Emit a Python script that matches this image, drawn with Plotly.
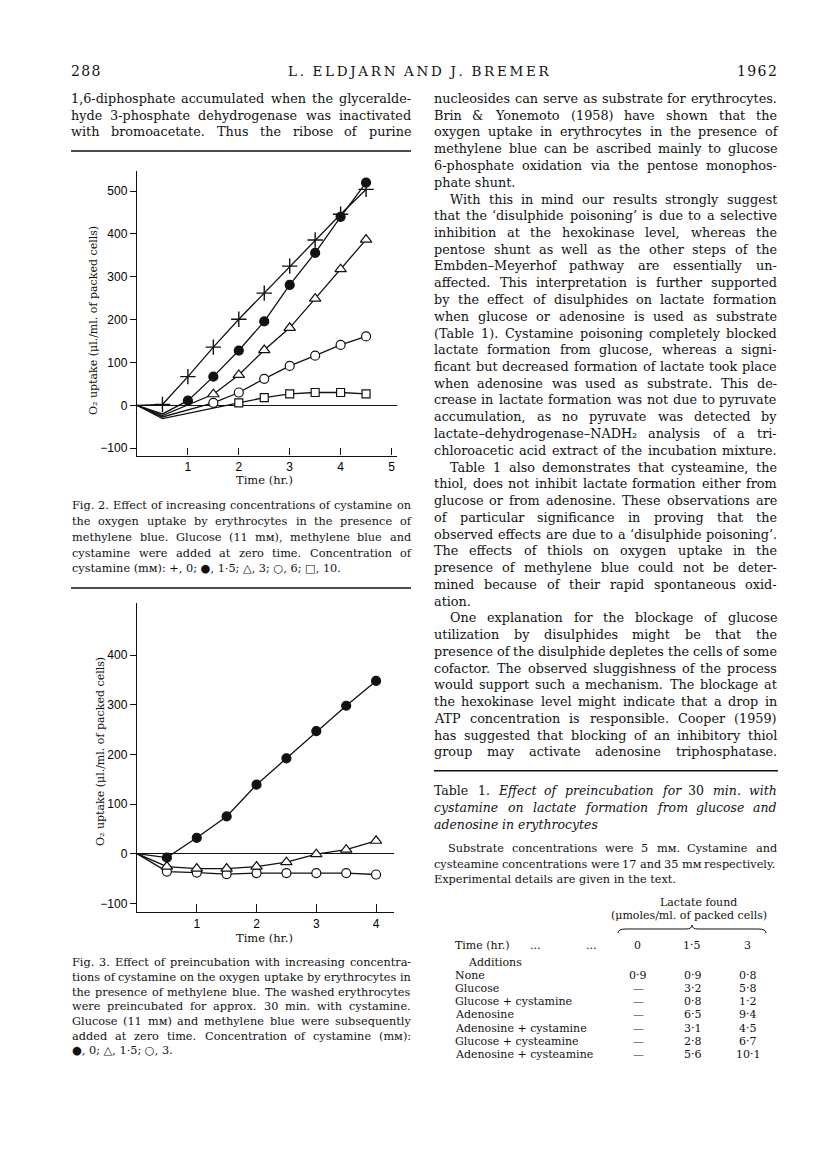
import plotly.graph_objects as go

W, H = 816, 1155

# ---------------- Fig. 2 data (O2 uptake, µl./ml. packed cells) ----------------
fig2_time_plus = [0, 0.5, 1.0, 1.5, 2.0, 2.5, 3.0, 3.5, 4.0, 4.5]
fig2_plus = [0, 2, 67, 136, 201, 262, 325, 386, 446, 504]
fig2_time_filled = [0, 0.5, 1.0, 1.5, 2.0, 2.5, 3.0, 3.5, 4.0, 4.5]
fig2_filled = [0, -20, 11, 67, 128, 196, 281, 356, 440, 520]
fig2_time_tri = [0, 0.5, 1.5, 2.0, 2.5, 3.0, 3.5, 4.0, 4.5]
fig2_tri = [0, -24, 26, 71, 129, 181, 249, 318, 387]
fig2_time_circ = [0, 0.5, 1.5, 2.0, 2.5, 3.0, 3.5, 4.0, 4.5]
fig2_circ = [0, -27, 6, 30, 62, 92, 116, 141, 161]
fig2_time_sq = [0, 0.5, 2.0, 2.5, 3.0, 3.5, 4.0, 4.5]
fig2_sq = [0, -31, 6, 18, 27, 30, 30, 27]
# number of leading (unmarked) points in each series
fig2_unmarked = {"plus": 1, "filled": 2, "tri": 2, "circ": 2, "sq": 2}
fig2_xticks = [1, 2, 3, 4, 5]
fig2_yticks = [-100, 0, 100, 200, 300, 400, 500]

# ---------------- Fig. 3 data ----------------
fig3_time = [0, 0.5, 1.0, 1.5, 2.0, 2.5, 3.0, 3.5, 4.0]
fig3_filled = [0, -8, 32, 75, 139, 192, 247, 298, 348]
fig3_tri = [0, -26, -30, -30, -26, -17, -1, 8, 26]
fig3_circ = [0, -36, -38, -41, -39, -39, -39, -39, -42]
fig3_xticks = [1, 2, 3, 4]
fig3_yticks = [-100, 0, 100, 200, 300, 400]

# ---------------- Table 1 ----------------
table_additions = ["None", "Glucose", "Glucose + cystamine", "Adenosine",
                   "Adenosine + cystamine", "Glucose + cysteamine",
                   "Adenosine + cysteamine"]
table_t0 = ["0·9", "—", "—", "—", "—", "—", "—"]
table_t15 = ["0·9", "3·2", "0·8", "6·5", "3·1", "2·8", "5·6"]
table_t3 = ["0·8", "5·8", "1·2", "9·4", "4·5", "6·7", "10·1"]
table_time_labels = ["0", "1·5", "3"]

# ---------------- Page text ----------------
left_top_lines = [
    "1,6-diphosphate accumulated when the glyceralde-",
    "hyde 3-phosphate dehydrogenase was inactivated",
    "with bromoacetate. Thus the ribose of purine",
]
fig2_caption = [
    "Fig. 2.  Effect of increasing concentrations of cystamine on",
    "the oxygen uptake by erythrocytes in the presence of",
    "methylene blue.  Glucose (11 mᴍ), methylene blue and",
    "cystamine were added at zero time.  Concentration of",
    "cystamine (mᴍ): +, 0; ●, 1·5; △, 3; ○, 6; □, 10.",
]
fig3_caption = [
    "Fig. 3.  Effect of preincubation with increasing concentra-",
    "tions of cystamine on the oxygen uptake by erythrocytes in",
    "the presence of methylene blue. The washed erythrocytes",
    "were preincubated for approx. 30 min. with cystamine.",
    "Glucose (11 mᴍ) and methylene blue were subsequently",
    "added at zero time.  Concentration of cystamine (mᴍ):",
    "●, 0; △, 1·5; ○, 3.",
]
# (indent, justified, text)
right_lines = [
    (0, 1, "nucleosides can serve as substrate for erythrocytes."),
    (0, 1, "Brin & Yonemoto (1958) have shown that the"),
    (0, 1, "oxygen uptake in erythrocytes in the presence of"),
    (0, 1, "methylene blue can be ascribed mainly to glucose"),
    (0, 1, "6-phosphate oxidation via the pentose monophos-"),
    (0, 0, "phate shunt."),
    (1, 1, "With this in mind our results strongly suggest"),
    (0, 1, "that the ‘disulphide poisoning’ is due to a selective"),
    (0, 1, "inhibition at the hexokinase level, whereas the"),
    (0, 1, "pentose shunt as well as the other steps of the"),
    (0, 1, "Embden–Meyerhof pathway are essentially un-"),
    (0, 1, "affected. This interpretation is further supported"),
    (0, 1, "by the effect of disulphides on lactate formation"),
    (0, 1, "when glucose or adenosine is used as substrate"),
    (0, 1, "(Table 1). Cystamine poisoning completely blocked"),
    (0, 1, "lactate formation from glucose, whereas a signi-"),
    (0, 1, "ficant but decreased formation of lactate took place"),
    (0, 1, "when adenosine was used as substrate. This de-"),
    (0, 1, "crease in lactate formation was not due to pyruvate"),
    (0, 1, "accumulation, as no pyruvate was detected by"),
    (0, 1, "lactate–dehydrogenase–NADH₂ analysis of a tri-"),
    (0, 1, "chloroacetic acid extract of the incubation mixture."),
    (1, 1, "Table 1 also demonstrates that cysteamine, the"),
    (0, 1, "thiol, does not inhibit lactate formation either from"),
    (0, 1, "glucose or from adenosine. These observations are"),
    (0, 1, "of particular significance in proving that the"),
    (0, 1, "observed effects are due to a ‘disulphide poisoning’."),
    (0, 1, "The effects of thiols on oxygen uptake in the"),
    (0, 1, "presence of methylene blue could not be deter-"),
    (0, 1, "mined because of their rapid spontaneous oxid-"),
    (0, 0, "ation."),
    (1, 1, "One explanation for the blockage of glucose"),
    (0, 1, "utilization by disulphides might be that the"),
    (0, 1, "presence of the disulphide depletes the cells of some"),
    (0, 1, "cofactor. The observed sluggishness of the process"),
    (0, 1, "would support such a mechanism. The blockage at"),
    (0, 1, "the hexokinase level might indicate that a drop in"),
    (0, 1, "ATP concentration is responsible.  Cooper (1959)"),
    (0, 1, "has suggested that blocking of an inhibitory thiol"),
    (0, 1, "group may activate adenosine triphosphatase."),
]
table_title = [
    "Table 1.  Effect of preincubation for 30 min. with",
    "cystamine on lactate formation from glucose and",
    "adenosine in erythrocytes",
]
table_title_upright = {"Table", "1.", "30"}
table_note = [
    "Substrate concentrations were 5 mᴍ.  Cystamine and",
    "cysteamine concentrations were 17 and 35 mᴍ respectively.",
    "Experimental details are given in the text.",
]


def X(px):
    return px / W


def Y(py):
    return 1 - py / H


SERIF = "DejaVu Serif"
TICKFONT = dict(family="Liberation Sans Narrow, Liberation Sans, Arial", size=12, color="black")
INK = "#111111"

# approximate advance widths of DejaVu Serif (units per 2048 em) used to justify lines
_cw = {' ': 651, 'a': 1221, 'b': 1311, 'c': 1139, 'd': 1311, 'e': 1212, 'f': 762, 'g': 1311,
       'h': 1319, 'i': 655, 'j': 641, 'k': 1237, 'l': 655, 'm': 1980, 'n': 1319, 'o': 1233,
       'p': 1311, 'q': 1311, 'r': 981, 's': 1049, 't': 821, 'u': 1319, 'v': 1186, 'w': 1745,
       'x': 1180, 'y': 1186, 'z': 1085, '.': 651, ',': 651, ':': 690, ';': 690, '-': 692,
       '–': 1024, '—': 2048, '(': 799, ')': 799, '‘': 651, '’': 651, '&': 1825, '·': 651,
       '+': 1716, '/': 690, '₂': 850, 'ᴍ': 1450, '●': 1500, '○': 1500, '△': 1500, '□': 1500,
       'A': 1479, 'B': 1421, 'C': 1497, 'D': 1593, 'E': 1401, 'F': 1331, 'G': 1593, 'H': 1733,
       'I': 780, 'J': 774, 'K': 1466, 'L': 1327, 'M': 1901, 'N': 1675, 'O': 1612, 'P': 1288,
       'Q': 1612, 'R': 1441, 'S': 1325, 'T': 1374, 'U': 1606, 'V': 1479, 'W': 2134, 'X': 1479,
       'Y': 1374, 'Z': 1343}


def tw(s, size):
    tot = 0
    for ch in s:
        if ch in _cw:
            tot += _cw[ch]
        elif ch.isdigit():
            tot += 1303
        else:
            tot += 1250
    return tot / 2048 * size


fig = go.Figure()


def add_series(t, v, n_unmarked, symbol, fill, size, xa, ya, lw_marker=1.2):
    fig.add_trace(go.Scatter(x=t, y=v, mode="lines", line=dict(color=INK, width=1.3),
                             xaxis=xa, yaxis=ya, showlegend=False, hoverinfo="skip"))
    fig.add_trace(go.Scatter(x=t[n_unmarked:], y=v[n_unmarked:], mode="markers",
                             marker=dict(symbol=symbol, size=size, color=fill,
                                         line=dict(color=INK, width=lw_marker)),
                             xaxis=xa, yaxis=ya, showlegend=False))


# Fig. 2
add_series(fig2_time_sq, fig2_sq, fig2_unmarked["sq"], "square", "white", 8, "x", "y")
add_series(fig2_time_circ, fig2_circ, fig2_unmarked["circ"], "circle", "white", 9, "x", "y")
add_series(fig2_time_tri, fig2_tri, fig2_unmarked["tri"], "triangle-up", "white", 10, "x", "y")
add_series(fig2_time_filled, fig2_filled, fig2_unmarked["filled"], "circle", INK, 9, "x", "y")
add_series(fig2_time_plus, fig2_plus, fig2_unmarked["plus"], "cross-thin", INK, 11, "x", "y", 1.4)

# Fig. 3
add_series(fig3_time, fig3_circ, 1, "circle", "white", 9, "x2", "y2")
add_series(fig3_time, fig3_tri, 1, "triangle-up", "white", 10, "x2", "y2")
add_series(fig3_time, fig3_filled, 1, "circle", INK, 9, "x2", "y2")


def tick_text(vals):
    return [("−" + str(-v)) if v < 0 else str(v) for v in vals]


axis_common = dict(showline=True, linecolor=INK, linewidth=1.4, showgrid=False,
                   tickcolor=INK, tickwidth=1.4, tickfont=TICKFONT, fixedrange=True)

fig.update_layout(
    width=W, height=H, margin=dict(l=0, r=0, t=0, b=0),
    paper_bgcolor="white", plot_bgcolor="white", showlegend=False,
    xaxis=dict(domain=[X(129), X(388.6)], range=[0, 5.1], anchor="y",
               ticks="inside", ticklen=7, tickvals=fig2_xticks, zeroline=False, **axis_common),
    yaxis=dict(domain=[Y(447.5), Y(163)], range=[-117, 547], anchor="x",
               ticks="outside", ticklen=6, tickvals=fig2_yticks, ticktext=tick_text(fig2_yticks),
               zeroline=True, zerolinecolor=INK, zerolinewidth=1.3, **axis_common),
    xaxis2=dict(domain=[X(129), X(386)], range=[0, 4.3], anchor="y2",
                ticks="inside", ticklen=8, tickvals=fig3_xticks, zeroline=False, **axis_common),
    yaxis2=dict(domain=[Y(904), Y(595)], range=[-117.5, 505], anchor="x2",
                ticks="outside", ticklen=6, tickvals=fig3_yticks, ticktext=tick_text(fig3_yticks),
                zeroline=True, zerolinecolor=INK, zerolinewidth=1.3, **axis_common),
)

ann = []
PAD = 2  # annotation inner padding (borderpad + borderwidth)


def text(px, py, s, size=12, anchor="left", angle=0, family=SERIF, italic=False):
    dx = -PAD if anchor == "left" else (PAD if anchor == "right" else 0)
    font = dict(family=family, size=size, color=INK)
    if italic:
        font["style"] = "italic"
    ann.append(dict(x=X(px + dx), y=Y(py), xref="paper", yref="paper", text=s, showarrow=False,
                    xanchor=anchor, yanchor="middle", textangle=angle, font=font))


def line_text(x0, x1, py, s, size, justify=True, italic_fn=None):
    words = s.split()
    if (not justify or len(words) == 1) and italic_fn is None:
        text(x0, py, s, size)
        return
    widths = [tw(w, size) for w in words]
    space = tw(' ', size)
    if justify and len(words) > 1:
        gap = (x1 - x0 - sum(widths)) / (len(words) - 1)
        gap = max(gap, 0.6 * space)
    else:
        gap = space
    x = x0
    for w, wd in zip(words, widths):
        it = italic_fn(w) if italic_fn else False
        text(x, py, w, size, italic=it)
        x += wd + gap


# header (letter-spaced)
def spaced(s, sep="\u2009"):
    return sep.join(list(s)).replace(sep + " " + sep, "  ")


text(63, 63, spaced("288", "\u200a"), 14)
text(541.7, 63, spaced("L. ELDJARN AND J. BREMER"), 13.5, "right")
text(769, 63, spaced("1962", "\u200a"), 14, "right")

BODY = 12.8
CAP = 11.3
LCOL = (63, 403)
RCOL = (426, 769)

# left column top text
for i, s in enumerate(left_top_lines):
    line_text(LCOL[0], LCOL[1], 90.5 + i * 16.75, s, BODY, True)

# axis titles
text(85, 313, "O₂ uptake (μl./ml. of packed cells)", 11, "center", -90)
text(256, 472, "Time (hr.)", 11.5, "center")
text(92, 744, "O₂ uptake (μl./ml. of packed cells)", 11, "center", -90)
text(256, 930, "Time (hr.)", 11.5, "center")

# captions
for i, s in enumerate(fig2_caption):
    line_text(64, 403, 498 + i * 15.7, s, CAP, i < len(fig2_caption) - 1)
for i, s in enumerate(fig3_caption):
    line_text(64, 403, 954.7 + i * 14.7, s, CAP, i < len(fig3_caption) - 1)

# right column body
for i, (ind, just, s) in enumerate(right_lines):
    line_text(RCOL[0] + ind * 16, RCOL[1], 90.5 + i * 16.75, s, BODY, bool(just))

# table title and note
for i, s in enumerate(table_title):
    line_text(RCOL[0], RCOL[1], 782.7 + i * 16.7, s, 12.5, i < 2,
              italic_fn=lambda w: w not in table_title_upright)
for i, s in enumerate(table_note):
    line_text(RCOL[0] + (14 if i == 0 else 0), RCOL[1], 841 + i * 15, s, CAP, i < 2)

TF = 11
text(690, 894, "Lactate found", TF, "center")
text(681, 907.5, "(μmoles/ml. of packed cells)", TF, "center")
text(447, 937.5, "Time (hr.)", TF)
text(527, 937.5, "...", TF, "center")
text(583, 937.5, "...", TF, "center")
for cx, s in zip([629, 684, 739], table_time_labels):
    text(cx, 937.5, s, TF, "center")
text(487, 954.3, "Additions", TF, "center")
for i, name in enumerate(table_additions):
    yy = 967 + i * 13.3
    text(447, yy, name, TF)
    text(630, yy, table_t0[i], TF, "center")
    text(685, yy, table_t15[i], TF, "center")
    text(740, yy, table_t3[i], TF, "center")

fig.update_layout(annotations=ann)


def rule(x0, x1, y, w=1.4):
    fig.add_shape(type="line", xref="paper", yref="paper", x0=X(x0), x1=X(x1), y0=Y(y), y1=Y(y),
                  line=dict(color=INK, width=w))


rule(63, 403, 143)
rule(63, 403, 580)
rule(426, 770, 762.7)

# curly brace over the table's time columns
bx0, bx1, bm, by, bh = 610, 758, 684, 921, 4


def P(px, py):
    return f"{X(px):.5f},{Y(py):.5f}"


brace = (f"M {P(bx0, by + bh)} Q {P(bx0, by)} {P(bx0 + 8, by)} L {P(bm - 6, by)} "
         f"Q {P(bm, by)} {P(bm, by - bh)} Q {P(bm, by)} {P(bm + 6, by)} "
         f"L {P(bx1 - 8, by)} Q {P(bx1, by)} {P(bx1, by + bh)}")
fig.add_shape(type="path", xref="paper", yref="paper", path=brace, line=dict(color=INK, width=1))

fig.write_html("out.html")
